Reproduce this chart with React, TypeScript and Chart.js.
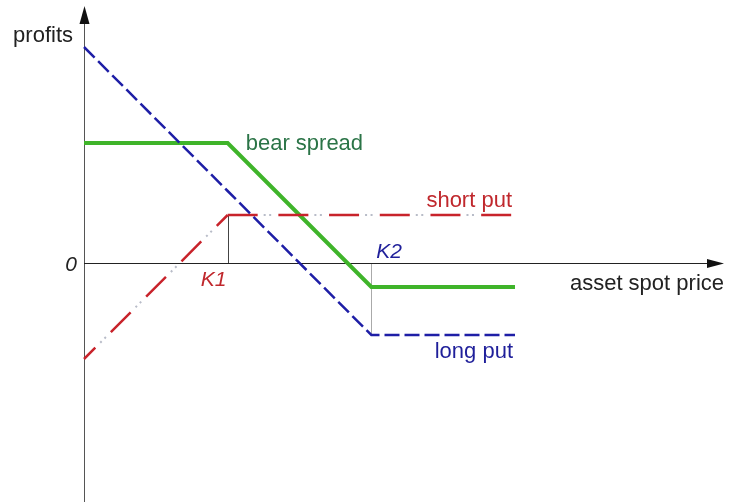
import React, { useEffect, useRef } from "react";
import { Chart, registerables } from "chart.js";

Chart.register(...registerables);

// Strike prices on the spot-price axis
const strikeK1 = 1;
const strikeK2 = 2;
const spotEnd = 3;

// Payoff breakpoints (spot price -> profit)
const spotPoints = [0, strikeK1, strikeK2, spotEnd];
const longPutProfit = [9, 3, -3, -3];
const shortPutProfit = [-4, 2, 2, 2];
const bearSpreadProfit = [5, 5, -1, -1];

// Axis ranges
const xMin = -0.5847;
const xMax = 4.5104;
const yMin = -9.958;
const yMax = 10.958;

const FONT = '"Liberation Sans", Arial, sans-serif';

const pts = (ys: number[], from = 0, to = spotPoints.length) =>
  spotPoints.slice(from, to).map((x, i) => ({ x, y: ys[from + i] }));

const RED = "#c8232b";
const DOT = "#b8bcc8";

// dash-dot-dot line for one stretch of the short put
function dashDotDot(
  label: string,
  data: { x: number; y: number }[],
  dash: number,
  gap1: number,
  gap2: number,
  gap3: number,
  offset: number
) {
  const period = dash + gap1 + 2 + gap2 + 2 + gap3;
  const dotStart = dash + gap1 - offset;
  return [
    {
      label: label + " dots",
      data,
      borderColor: DOT,
      borderWidth: 2,
      borderDash: [2, gap2, 2, period - 4 - gap2],
      borderDashOffset: ((period - dotStart) % period + period) % period,
      borderCapStyle: "butt",
      pointRadius: 0,
    },
    {
      label,
      data,
      borderColor: RED,
      borderWidth: 2.5,
      borderDash: [dash, period - dash],
      borderDashOffset: offset,
      borderCapStyle: "butt",
      pointRadius: 0,
    },
  ];
}

const axesAndLabels = {
  id: "axesAndLabels",
  beforeDatasetsDraw(chart: any) {
    const { ctx, scales, chartArea } = chart;
    const xs = scales.x;
    const ys = scales.y;
    const x0 = xs.getPixelForValue(0);
    const y0 = ys.getPixelForValue(0);
    ctx.save();

    // strike guide lines
    ctx.lineWidth = 1;
    ctx.strokeStyle = "#444";
    ctx.beginPath();
    ctx.moveTo(Math.round(xs.getPixelForValue(strikeK1)) + 0.5, ys.getPixelForValue(shortPutProfit[1]));
    ctx.lineTo(Math.round(xs.getPixelForValue(strikeK1)) + 0.5, y0);
    ctx.stroke();
    ctx.strokeStyle = "#aaa";
    ctx.beginPath();
    ctx.moveTo(Math.round(xs.getPixelForValue(strikeK2)) + 0.5, y0);
    ctx.lineTo(Math.round(xs.getPixelForValue(strikeK2)) + 0.5, ys.getPixelForValue(longPutProfit[2]));
    ctx.stroke();

    // y axis with arrow
    const yTip = chartArea.top + 6;
    ctx.strokeStyle = "#555";
    ctx.beginPath();
    ctx.moveTo(Math.round(x0) + 0.5, chartArea.bottom);
    ctx.lineTo(Math.round(x0) + 0.5, yTip + 10);
    ctx.stroke();
    ctx.fillStyle = "#111";
    ctx.beginPath();
    ctx.moveTo(Math.round(x0) + 0.5, yTip);
    ctx.lineTo(Math.round(x0) + 5.5, yTip + 18);
    ctx.lineTo(Math.round(x0) - 4.5, yTip + 18);
    ctx.closePath();
    ctx.fill();

    // x axis with arrow
    const xTip = chartArea.right - 8;
    ctx.strokeStyle = "#222";
    ctx.beginPath();
    ctx.moveTo(x0, Math.round(y0) + 0.5);
    ctx.lineTo(xTip - 10, Math.round(y0) + 0.5);
    ctx.stroke();
    ctx.beginPath();
    ctx.moveTo(xTip, Math.round(y0) + 0.5);
    ctx.lineTo(xTip - 17, Math.round(y0) + 5);
    ctx.lineTo(xTip - 17, Math.round(y0) - 4);
    ctx.closePath();
    ctx.fill();
    ctx.restore();
  },
  afterDatasetsDraw(chart: any) {
    const { ctx, scales, chartArea } = chart;
    const xs = scales.x;
    const ys = scales.y;
    const x0 = xs.getPixelForValue(0);
    const y0 = ys.getPixelForValue(0);
    ctx.save();
    ctx.font = `22px ${FONT}`;
    ctx.textBaseline = "alphabetic";

    ctx.fillStyle = "#222";
    ctx.textAlign = "right";
    ctx.fillText("profits", x0 - 11, chartArea.top + 42);
    ctx.fillText("asset spot price", chartArea.right - 8, y0 + 27);

    ctx.fillStyle = "#2b7447";
    ctx.textAlign = "left";
    ctx.fillText("bear spread", xs.getPixelForValue(strikeK1) + 18, ys.getPixelForValue(bearSpreadProfit[1]) + 7);

    ctx.fillStyle = "#c0282d";
    ctx.textAlign = "right";
    ctx.fillText("short put", xs.getPixelForValue(spotEnd) - 3, ys.getPixelForValue(shortPutProfit[3]) - 8);

    ctx.fillStyle = "#1f1f9a";
    ctx.fillText("long put", xs.getPixelForValue(spotEnd) - 2, ys.getPixelForValue(longPutProfit[3]) + 23);

    ctx.font = `italic 21px ${FONT}`;
    ctx.textBaseline = "middle";
    ctx.fillStyle = "#222";
    ctx.fillText("0", x0 - 7, y0 + 2);

    ctx.fillStyle = "#c0282d";
    ctx.textAlign = "center";
    ctx.fillText("K1", xs.getPixelForValue(strikeK1) - 14, y0 + 17);

    ctx.fillStyle = "#1f1f9a";
    ctx.textAlign = "left";
    ctx.fillText("K2", xs.getPixelForValue(strikeK2) + 5, y0 - 11);
    ctx.restore();
  },
};

export default function App() {
  const canvasRef = useRef<HTMLCanvasElement | null>(null);

  useEffect(() => {
    if (!canvasRef.current) return;
    const chart = new Chart(canvasRef.current, {
      type: "line",
      data: {
        datasets: [
          {
            label: "long put",
            data: pts(longPutProfit),
            borderColor: "#1e1ea6",
            borderWidth: 2.5,
            borderDash: [15, 5],
            borderCapStyle: "butt",
            pointRadius: 0,
          },
          // short put: rising leg up to K1, then the flat leg
          ...dashDotDot("short put rising", pts(shortPutProfit, 0, 2), 28, 7, 4, 7, 12),
          ...dashDotDot("short put flat", pts(shortPutProfit, 1, 4), 30, 6, 3.5, 7.2, 0),
          {
            label: "bear spread",
            data: pts(bearSpreadProfit),
            borderColor: "#3fb42a",
            borderWidth: 4,
            borderJoinStyle: "miter",
            pointRadius: 0,
          },
        ],
      },
      options: {
        responsive: false,
        animation: false,
        devicePixelRatio: 1,
        layout: { padding: 0 },
        elements: { line: { tension: 0, fill: false } },
        plugins: { legend: { display: false }, tooltip: { enabled: false } },
        scales: {
          x: { type: "linear", display: false, min: xMin, max: xMax },
          y: { type: "linear", display: false, min: yMin, max: yMax },
        },
      },
      plugins: [axesAndLabels],
    } as any);
    return () => chart.destroy();
  }, []);

  return (
    <div style={{ position: "fixed", left: 0, top: 0, width: 732, height: 502, background: "#fff" }}>
      <canvas ref={canvasRef} width={732} height={502} />
    </div>
  );
}
